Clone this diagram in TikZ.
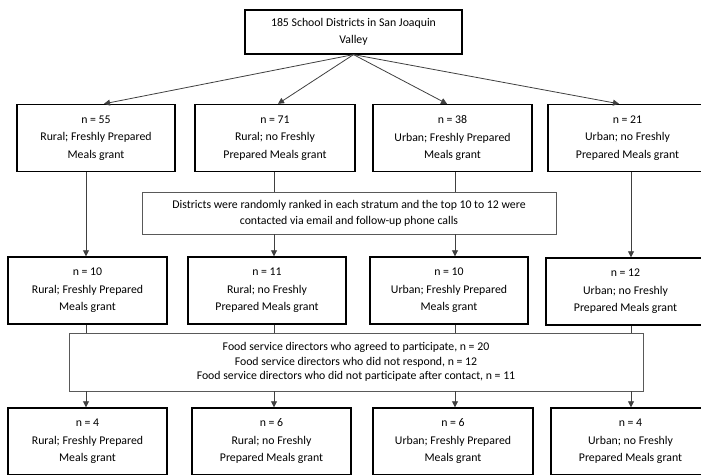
\documentclass[tikz,border=0pt]{standalone}
\usepackage{fontspec}
\setmainfont{Carlito}
\usetikzlibrary{arrows.meta}
\begin{document}
\begin{tikzpicture}[x=1pt,y=-1pt,
  box/.style={draw=black,line width=1.4pt,rectangle,inner sep=0pt,align=center,
    font=\fontsize{11.8}{17.5}\selectfont,minimum width=159pt,minimum height=67pt},
  topbox/.style={draw=black,line width=1.2pt,rectangle,inner sep=0pt,align=center,
    font=\fontsize{11.8}{16.5}\selectfont,minimum width=217pt,minimum height=44pt},
  note/.style={draw=black!65,line width=0.9pt,rectangle,inner sep=0pt,align=center},
  conn/.style={draw=black!75,line width=0.8pt},
  arr/.style={conn,-{Triangle[length=6pt,width=6pt]}}]
\useasboundingbox (0,0) rectangle (701,474);
% top
\node[topbox] (top) at (353.5,32) {185 School Districts in San Joaquin\\Valley};
% row 1
\node[box,minimum width=158pt] (a1) at (96,138) {n = 55\\Rural; Freshly Prepared\\Meals grant};
\node[box,minimum width=160pt] (a2) at (275,138) {n = 71\\Rural; no Freshly\\Prepared Meals grant};
\node[box] (a3) at (452.5,138) {n = 38\\Urban; Freshly Prepared\\Meals grant};
\node[box] (a4) at (627.5,138) {n = 21\\Urban; no Freshly\\Prepared Meals grant};
% middle 1
\node[note,minimum width=414pt,minimum height=42pt,font=\fontsize{11.8}{16}\selectfont] (m1) at (349,213)
  {Districts were randomly ranked in each stratum and the top 10 to 12 were\\contacted via email and follow-up phone calls};
% row 2
\node[box] (b1) at (87.5,290.5) {n = 10\\Rural; Freshly Prepared\\Meals grant};
\node[box,minimum width=158pt] (b2) at (267,290.5) {n = 11\\Rural; no Freshly\\Prepared Meals grant};
\node[box,minimum width=158pt] (b3) at (449,290.5) {n = 10\\Urban; Freshly Prepared\\Meals grant};
\node[box] (b4) at (625.5,291.5) {n = 12\\Urban; no Freshly\\Prepared Meals grant};
% middle 2
\node[note,minimum width=574pt,minimum height=58pt,font=\fontsize{11.8}{14.5}\selectfont] (m2) at (356,362)
  {Food service directors who agreed to participate, n = 20\\Food service directors who did not respond, n = 12\\Food service directors who did not participate after contact, n = 11};
% row 3
\node[box] (c1) at (87.5,441.5) {n = 4\\Rural; Freshly Prepared\\Meals grant};
\node[box] (c2) at (271.5,441.5) {n = 6\\Rural; no Freshly\\Prepared Meals grant};
\node[box,minimum width=160pt] (c3) at (453,441.5) {n = 6\\Urban; Freshly Prepared\\Meals grant};
\node[box] (c4) at (630.5,441.5) {n = 4\\Urban; no Freshly\\Prepared Meals grant};
% coordinates
\coordinate (t1) at (104,0);
\coordinate (t2) at (278,0);
\coordinate (t3) at (447,0);
\coordinate (t4) at (619,0);
\coordinate (x1) at (86,0);
\coordinate (x2) at (274,0);
\coordinate (x3) at (455,0);
\coordinate (x4) at (631,0);
% top arrows
\draw[arr] (top.south) -- (a1.north -| t1);
\draw[arr] (top.south) -- (a2.north -| t2);
\draw[arr] (top.south) -- (a3.north -| t3);
\draw[arr] (top.south) -- (a4.north -| t4);
% row1 to row2
\draw[arr] (a1.south -| x1) -- (b1.north -| x1);
\draw[conn] (a2.south -| x2) -- (m1.north -| x2);
\draw[arr] (m1.south -| x2) -- (b2.north -| x2);
\draw[conn] (a3.south -| x3) -- (m1.north -| x3);
\draw[arr] (m1.south -| x3) -- (b3.north -| x3);
\draw[arr] (a4.south -| x4) -- (b4.north -| x4);
% row2 to row3
\draw[conn] (b1.south -| x1) -- (m2.north -| x1);
\draw[arr] (m2.south -| x1) -- (c1.north -| x1);
\draw[conn] (b2.south -| x2) -- (m2.north -| x2);
\draw[arr] (m2.south -| x2) -- (c2.north -| x2);
\draw[conn] (b3.south -| x3) -- (m2.north -| x3);
\draw[arr] (m2.south -| x3) -- (c3.north -| x3);
\draw[conn] (b4.south -| x4) -- (m2.north -| x4);
\draw[arr] (m2.south -| x4) -- (c4.north -| x4);
\end{tikzpicture}
\end{document}
